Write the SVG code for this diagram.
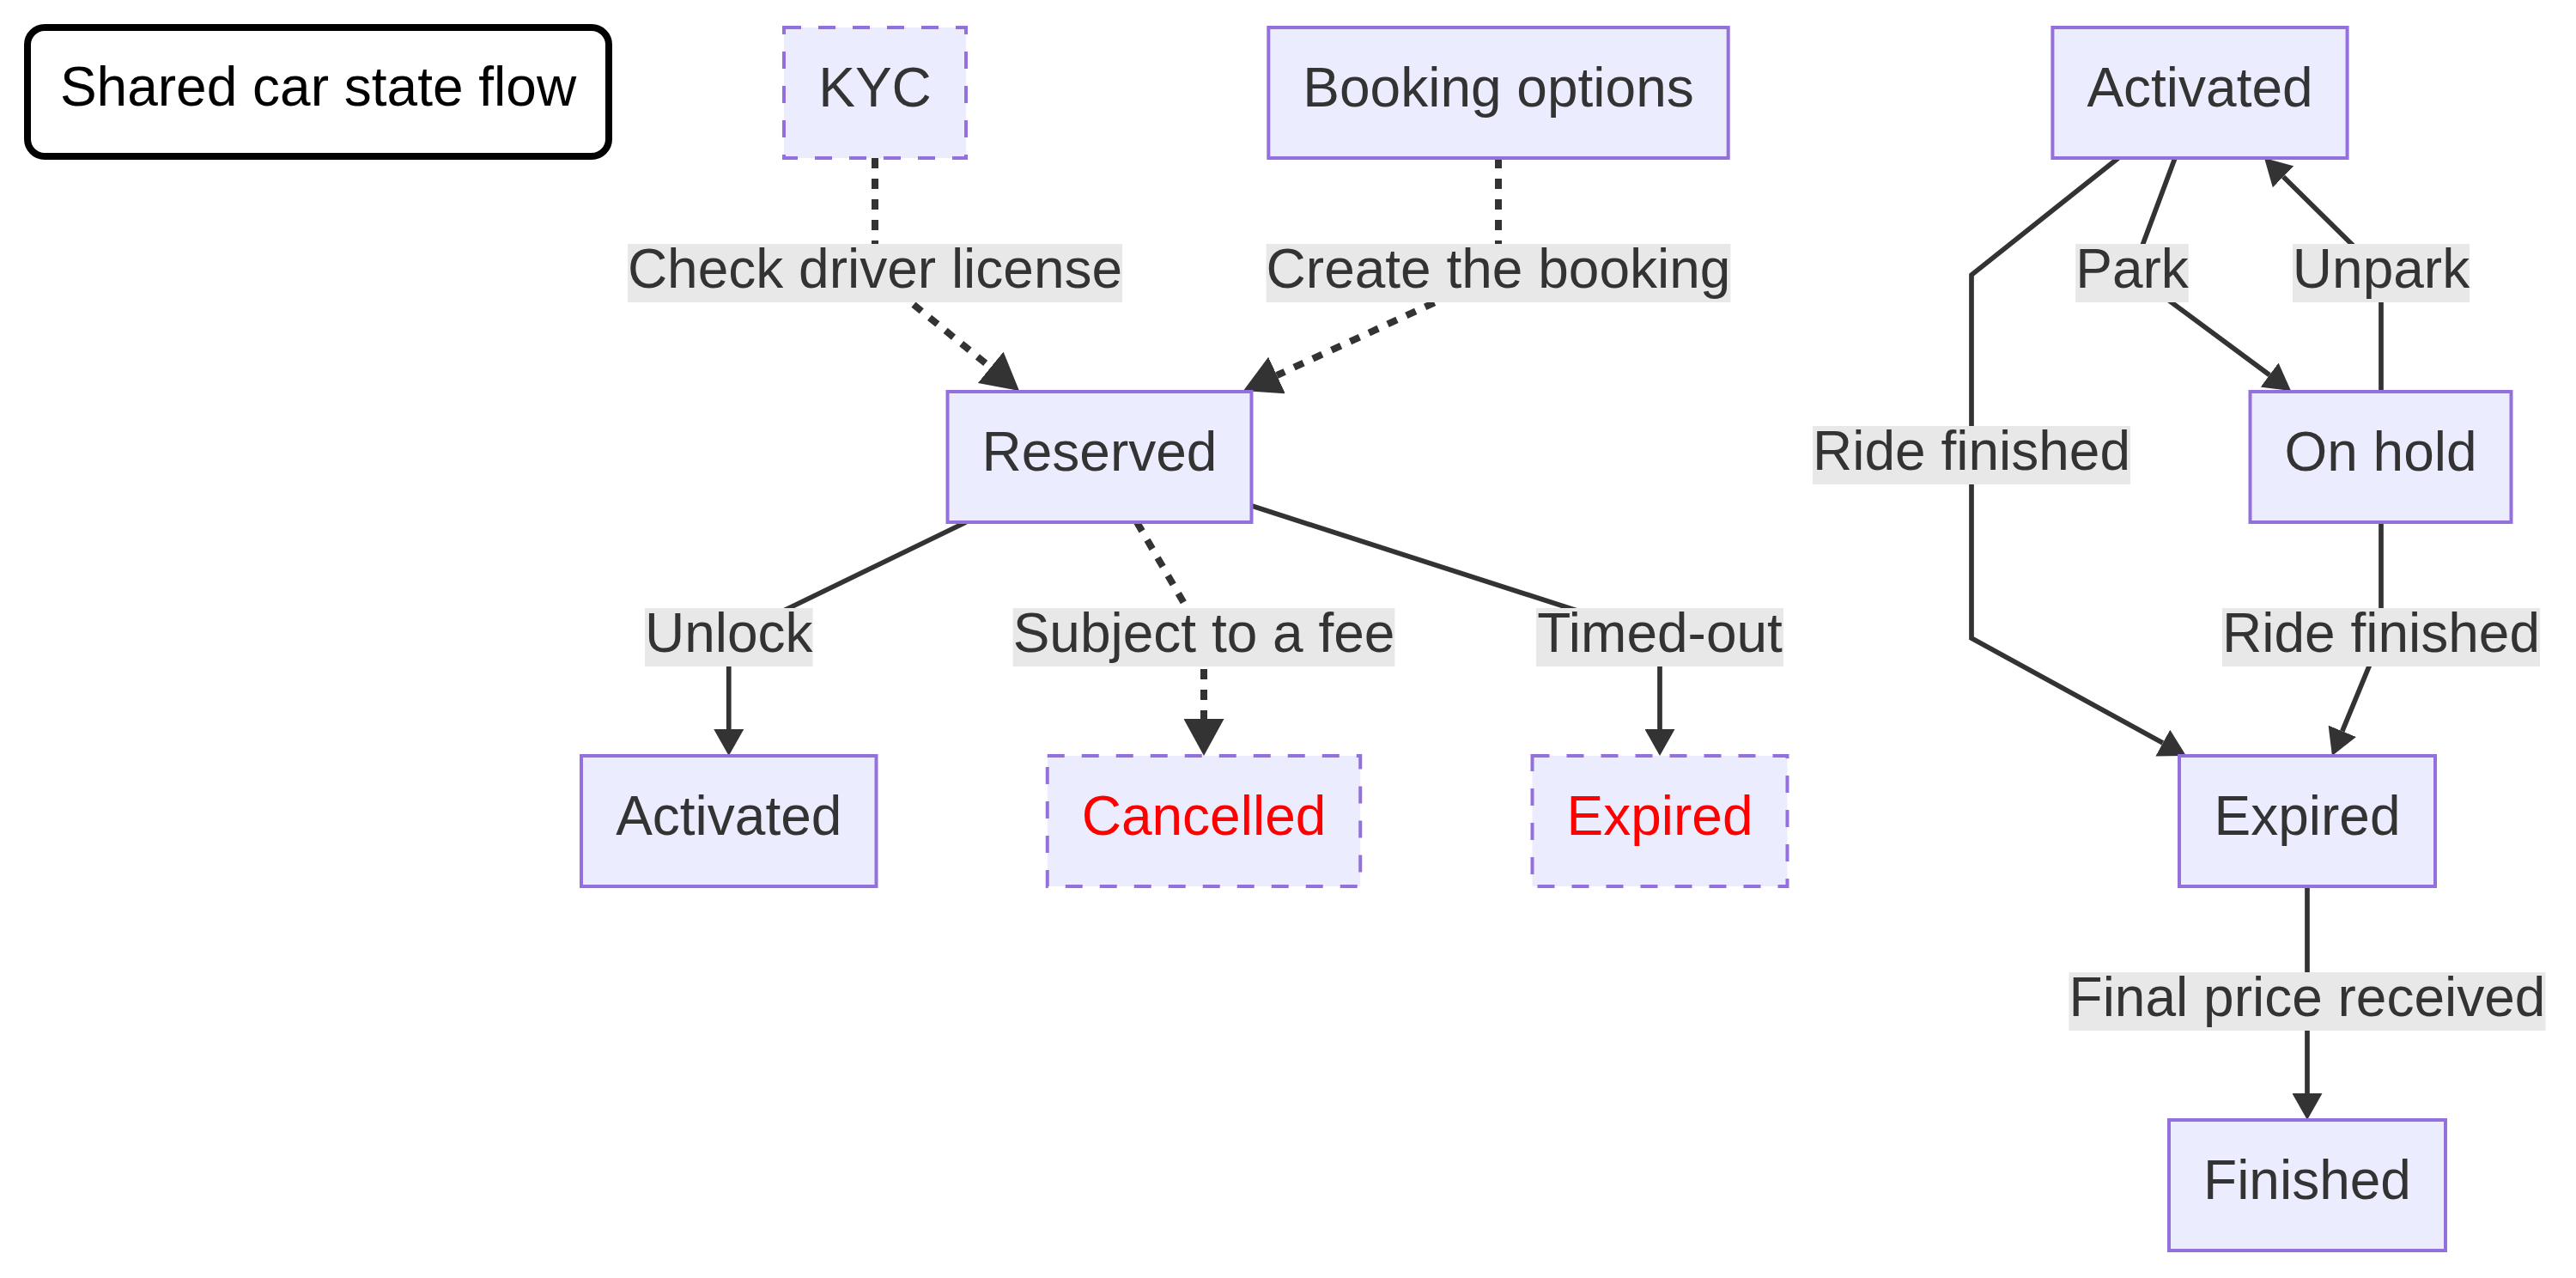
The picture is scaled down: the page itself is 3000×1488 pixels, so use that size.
<svg xmlns="http://www.w3.org/2000/svg" width="3000" height="1488" viewBox="0 0 3000 1488">
<defs>
<style>
.node rect{fill:#ECECFF;stroke:#9370DB;stroke-width:4}
.node.dashed rect{stroke-dasharray:20 20}
.node text{font-family:"Liberation Sans",Arial,sans-serif;font-size:64px;fill:#333;text-anchor:middle}
.node text.red{fill:#FF0000}
.edge{fill:none;stroke:#333;stroke-width:5.7;stroke-linejoin:miter}
.edge.dotted{stroke-width:8;stroke-dasharray:12 12}
.lbl rect{fill:#e8e8e8}
.lbl text{font-family:"Liberation Sans",Arial,sans-serif;font-size:64px;fill:#333;text-anchor:middle}
</style>
<marker id="arr" markerUnits="userSpaceOnUse" markerWidth="31" markerHeight="35" refX="0" refY="17.5" orient="auto" viewBox="0 0 31 35">
<path d="M0,0 L31,17.5 L0,35 z" fill="#333"/>
</marker>
<marker id="arrd" markerUnits="userSpaceOnUse" markerWidth="43" markerHeight="47" refX="0" refY="23.5" orient="auto" viewBox="0 0 43 47">
<path d="M0,0 L43,23.5 L0,47 z" fill="#333"/>
</marker>
</defs>
<rect width="3000" height="1488" fill="#ffffff"/>

<g id="title">
<rect x="32" y="32" width="677" height="150" rx="20" ry="20" fill="#ffffff" stroke="#000" stroke-width="8"/>
<text x="370.5" y="123" font-family="Liberation Sans,Arial,sans-serif" font-size="64" fill="#000" text-anchor="middle">Shared car state flow</text>
</g>

<g id="connectors">
<path class="edge dotted" d="M1019,184 L1019,318 L1153.7,427.8" marker-end="url(#arrd)"/>
<path class="edge dotted" d="M1745,184 L1745,318 L1487,437" marker-end="url(#arrd)"/>
<path class="edge" d="M1125,608 L848.75,742 L848.75,849" marker-end="url(#arr)"/>
<path class="edge dotted" d="M1324,608 L1402,742 L1402,837" marker-end="url(#arrd)"/>
<path class="edge" d="M1458,589 L1933,742 L1933,849" marker-end="url(#arr)"/>
<path class="edge" d="M2533,184 L2483,318 L2643.1,436.6" marker-end="url(#arr)"/>
<path class="edge" d="M2773,456 L2773,318 L2659.1,205.8" marker-end="url(#arr)"/>
<path class="edge" d="M2467,184 L2296,320 L2296,743 L2518.8,865.1" marker-end="url(#arr)"/>
<path class="edge" d="M2773,608 L2773,742 L2727.8,851.3" marker-end="url(#arr)"/>
<path class="edge" d="M2687,1032 L2687,1166 L2687,1273" marker-end="url(#arr)"/>
</g>

<g id="edge-labels">
<g class="lbl"><rect x="731" y="284" width="576" height="68"/><text x="1019" y="335">Check driver license</text></g>
<g class="lbl"><rect x="1474.6" y="284" width="540.8" height="68"/><text x="1745" y="335">Create the booking</text></g>
<g class="lbl"><rect x="751" y="708" width="195.6" height="68"/><text x="848.75" y="759">Unlock</text></g>
<g class="lbl"><rect x="1179.6" y="708" width="444.8" height="68"/><text x="1402" y="759">Subject to a fee</text></g>
<g class="lbl"><rect x="1789" y="708" width="288" height="68"/><text x="1933" y="759">Timed-out</text></g>
<g class="lbl"><rect x="2417.2" y="284" width="131.6" height="68"/><text x="2483" y="335">Park</text></g>
<g class="lbl"><rect x="2670" y="284" width="206" height="68"/><text x="2773" y="335">Unpark</text></g>
<g class="lbl"><rect x="2111" y="496" width="370" height="68"/><text x="2296" y="547">Ride finished</text></g>
<g class="lbl"><rect x="2588" y="708" width="370" height="68"/><text x="2773" y="759">Ride finished</text></g>
<g class="lbl"><rect x="2409.5" y="1132" width="555" height="68"/><text x="2687" y="1183">Final price received</text></g>
</g>

<g id="node-kyc" class="node dashed"><rect x="913" y="32" width="212" height="152"/><text x="1019" y="124">KYC</text></g>
<g id="node-booking" class="node"><rect x="1477.3" y="32" width="535.4" height="152"/><text x="1745" y="124">Booking options</text></g>
<g id="node-activated-right" class="node"><rect x="2390.4" y="32" width="343.2" height="152"/><text x="2562" y="124">Activated</text></g>
<g id="node-reserved" class="node"><rect x="1103.5" y="456" width="354" height="152"/><text x="1280.5" y="548">Reserved</text></g>
<g id="node-onhold" class="node"><rect x="2620.5" y="456" width="304" height="152"/><text x="2772.5" y="548">On hold</text></g>
<g id="node-activated-left" class="node"><rect x="677" y="880" width="343.5" height="152"/><text x="848.75" y="972">Activated</text></g>
<g id="node-cancelled" class="node dashed"><rect x="1219.75" y="880" width="364.5" height="152"/><text class="red" x="1402" y="972">Cancelled</text></g>
<g id="node-expired-left" class="node dashed"><rect x="1784.5" y="880" width="297" height="152"/><text class="red" x="1933" y="972">Expired</text></g>
<g id="node-expired-right" class="node"><rect x="2538" y="880" width="298" height="152"/><text x="2687" y="972">Expired</text></g>
<g id="node-finished" class="node"><rect x="2526" y="1304" width="322" height="152"/><text x="2687" y="1396">Finished</text></g>
</svg>
